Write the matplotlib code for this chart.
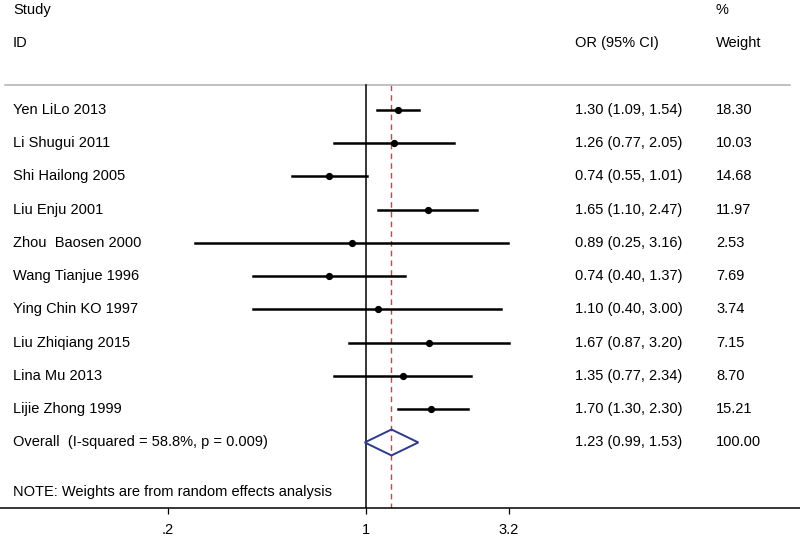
import matplotlib.pyplot as plt
import matplotlib.transforms as mtransforms
import numpy as np

plt.rcParams["font.family"] = ["Liberation Sans", "DejaVu Sans"]

studies = ["Yen LiLo 2013", "Li Shugui 2011", "Shi Hailong 2005", "Liu Enju 2001",
           "Zhou  Baosen 2000", "Wang Tianjue 1996", "Ying Chin KO 1997",
           "Liu Zhiqiang 2015", "Lina Mu 2013", "Lijie Zhong 1999"]
odds = [1.30, 1.26, 0.74, 1.65, 0.89, 0.74, 1.10, 1.67, 1.35, 1.70]
ci_low = [1.09, 0.77, 0.55, 1.10, 0.25, 0.40, 0.40, 0.87, 0.77, 1.30]
ci_high = [1.54, 2.05, 1.01, 2.47, 3.16, 1.37, 3.00, 3.20, 2.34, 2.30]
weights = [18.30, 10.03, 14.68, 11.97, 2.53, 7.69, 3.74, 7.15, 8.70, 15.21]

overall_label = "Overall  (I-squared = 58.8%, p = 0.009)"
overall_or, overall_lo, overall_hi = 1.23, 0.99, 1.53

x_ticks = [0.2, 1, 3.2]
x_ticklabels = [".2", "1", "3.2"]

FS = 10.5
X_ID = 13 / 800
X_OR = 575 / 800
X_W = 716 / 800

fig = plt.figure(figsize=(8.0, 5.39), dpi=100)
ax = fig.add_axes([0, 31 / 539, 1, 508 / 539])
ax.set_xscale("log")
ax.set_xlim(np.exp(-366 / 123), np.exp(434 / 123))
ax.set_ylim(11.97, -3.3)

for s in ["top", "left", "right"]:
    ax.spines[s].set_visible(False)
ax.spines["bottom"].set_linewidth(1.1)
ax.set_yticks([])
ax.set_xticks(x_ticks)
ax.set_xticklabels(x_ticklabels, fontsize=FS)
ax.xaxis.set_minor_locator(plt.NullLocator())
ax.tick_params(axis="x", direction="out", length=4.5, width=0.9, pad=6)

tr = mtransforms.blended_transform_factory(fig.transFigure, ax.transData)

# headers
ax.text(X_ID, -3, "Study", transform=tr, fontsize=FS, va="center")
ax.text(X_ID, -2, "ID", transform=tr, fontsize=FS, va="center")
ax.text(X_OR, -2, "OR (95% CI)", transform=tr, fontsize=FS, va="center")
ax.text(X_W, -3, "%", transform=tr, fontsize=FS, va="center")
ax.text(X_W, -2, "Weight", transform=tr, fontsize=FS, va="center")
ax.plot([5 / 800, 790 / 800], [-0.75, -0.75], transform=tr, color="#b0b0b0", lw=1.1)

# reference lines
ax.plot([1, 1], [-0.75, 12], color="black", lw=1.1, zorder=2)
ax.plot([overall_or, overall_or], [-0.75, 12], color="#b84a4a", lw=1.0,
        ls=(0, (4, 3)), zorder=1)

for i, name in enumerate(studies):
    ax.plot([ci_low[i], ci_high[i]], [i, i], color="black", lw=1.8, zorder=3)
    ax.plot(odds[i], i, "o", color="black", ms=4.2, zorder=4)
    ax.text(X_ID, i, name, transform=tr, fontsize=FS, va="center")
    ax.text(X_OR, i, f"{odds[i]:.2f} ({ci_low[i]:.2f}, {ci_high[i]:.2f})",
            transform=tr, fontsize=FS, va="center")
    ax.text(X_W, i, f"{weights[i]:.2f}", transform=tr, fontsize=FS, va="center")

row = len(studies)
ax.fill([overall_lo, overall_or, overall_hi, overall_or],
        [row, row - 0.39, row, row + 0.39], facecolor="none",
        edgecolor="#2b3990", lw=1.4, zorder=4)
ax.text(X_ID, row, overall_label, transform=tr, fontsize=FS, va="center")
ax.text(X_OR, row, f"{overall_or:.2f} ({overall_lo:.2f}, {overall_hi:.2f})",
        transform=tr, fontsize=FS, va="center")
ax.text(X_W, row, "100.00", transform=tr, fontsize=FS, va="center")

ax.text(X_ID, row + 1.5, "NOTE: Weights are from random effects analysis",
        transform=tr, fontsize=FS, va="center")

fig.savefig("out.png", dpi=100, facecolor="white")
